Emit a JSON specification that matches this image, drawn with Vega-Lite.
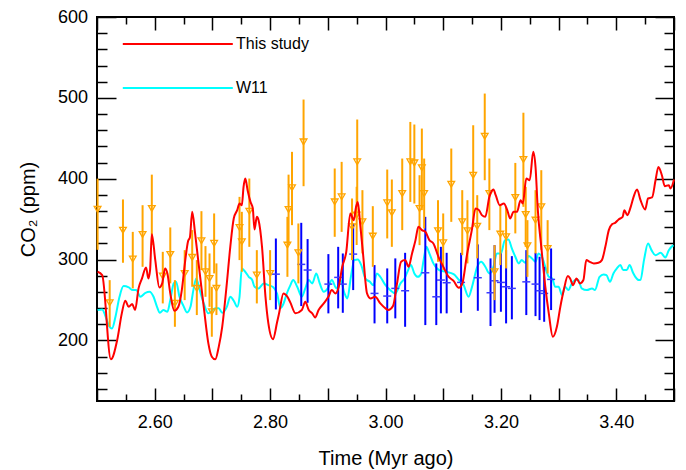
{
  "$schema": "https://vega.github.io/schema/vega-lite/v6.json",
  "width": 577,
  "height": 384,
  "autosize": {"type": "none"},
  "padding": {"left": 97, "top": 17, "right": 12, "bottom": 69},
  "background": "white",
  "config": {
    "view": {"stroke": "black", "strokeWidth": 2},
    "font": "Liberation Sans"
  },
  "datasets": {
    "lines": [
      {"s": "This study", "t": 2.501, "v": 284.8},
      {"s": "This study", "t": 2.509, "v": 280.7},
      {"s": "This study", "t": 2.524, "v": 176.5},
      {"s": "This study", "t": 2.535, "v": 200.4},
      {"s": "This study", "t": 2.543, "v": 233.4},
      {"s": "This study", "t": 2.549, "v": 249},
      {"s": "This study", "t": 2.555, "v": 241.5},
      {"s": "This study", "t": 2.561, "v": 244.9},
      {"s": "This study", "t": 2.566, "v": 237.5},
      {"s": "This study", "t": 2.572, "v": 264.3},
      {"s": "This study", "t": 2.578, "v": 276.6},
      {"s": "This study", "t": 2.585, "v": 290.2},
      {"s": "This study", "t": 2.589, "v": 276.6},
      {"s": "This study", "t": 2.592, "v": 286.9},
      {"s": "This study", "t": 2.595, "v": 331.4},
      {"s": "This study", "t": 2.601, "v": 299.3},
      {"s": "This study", "t": 2.608, "v": 265.5},
      {"s": "This study", "t": 2.613, "v": 270.5},
      {"s": "This study", "t": 2.618, "v": 289},
      {"s": "This study", "t": 2.622, "v": 282.8},
      {"s": "This study", "t": 2.627, "v": 258.1},
      {"s": "This study", "t": 2.634, "v": 236.6},
      {"s": "This study", "t": 2.641, "v": 241.5},
      {"s": "This study", "t": 2.647, "v": 262.2},
      {"s": "This study", "t": 2.653, "v": 299.3},
      {"s": "This study", "t": 2.658, "v": 323.1},
      {"s": "This study", "t": 2.661, "v": 327.3},
      {"s": "This study", "t": 2.665, "v": 359},
      {"s": "This study", "t": 2.67, "v": 332.3},
      {"s": "This study", "t": 2.676, "v": 295.2},
      {"s": "This study", "t": 2.685, "v": 241.5},
      {"s": "This study", "t": 2.693, "v": 196.3},
      {"s": "This study", "t": 2.699, "v": 179.8},
      {"s": "This study", "t": 2.705, "v": 176.5},
      {"s": "This study", "t": 2.711, "v": 192},
      {"s": "This study", "t": 2.717, "v": 216.8},
      {"s": "This study", "t": 2.725, "v": 270.5},
      {"s": "This study", "t": 2.731, "v": 315.7},
      {"s": "This study", "t": 2.737, "v": 350.8},
      {"s": "This study", "t": 2.743, "v": 361.1},
      {"s": "This study", "t": 2.747, "v": 369.3},
      {"s": "This study", "t": 2.751, "v": 367.2},
      {"s": "This study", "t": 2.754, "v": 389.9},
      {"s": "This study", "t": 2.757, "v": 400.2},
      {"s": "This study", "t": 2.761, "v": 385.8},
      {"s": "This study", "t": 2.766, "v": 371.3},
      {"s": "This study", "t": 2.77, "v": 363.2},
      {"s": "This study", "t": 2.773, "v": 337.2},
      {"s": "This study", "t": 2.777, "v": 352.8},
      {"s": "This study", "t": 2.78, "v": 348.7},
      {"s": "This study", "t": 2.786, "v": 315.7},
      {"s": "This study", "t": 2.792, "v": 253.9},
      {"s": "This study", "t": 2.797, "v": 221},
      {"s": "This study", "t": 2.805, "v": 201.5},
      {"s": "This study", "t": 2.812, "v": 222},
      {"s": "This study", "t": 2.816, "v": 235},
      {"s": "This study", "t": 2.823, "v": 258},
      {"s": "This study", "t": 2.83, "v": 253.9},
      {"s": "This study", "t": 2.835, "v": 247},
      {"s": "This study", "t": 2.844, "v": 233.4},
      {"s": "This study", "t": 2.855, "v": 237.5},
      {"s": "This study", "t": 2.861, "v": 247.7},
      {"s": "This study", "t": 2.867, "v": 237.5},
      {"s": "This study", "t": 2.873, "v": 233.4},
      {"s": "This study", "t": 2.878, "v": 228.4},
      {"s": "This study", "t": 2.884, "v": 237.5},
      {"s": "This study", "t": 2.893, "v": 245.7},
      {"s": "This study", "t": 2.901, "v": 253.9},
      {"s": "This study", "t": 2.907, "v": 262.2},
      {"s": "This study", "t": 2.913, "v": 258.1},
      {"s": "This study", "t": 2.919, "v": 266.3},
      {"s": "This study", "t": 2.925, "v": 291},
      {"s": "This study", "t": 2.932, "v": 309.5},
      {"s": "This study", "t": 2.939, "v": 357},
      {"s": "This study", "t": 2.945, "v": 348.7},
      {"s": "This study", "t": 2.949, "v": 365.2},
      {"s": "This study", "t": 2.952, "v": 371.3},
      {"s": "This study", "t": 2.956, "v": 344.6},
      {"s": "This study", "t": 2.961, "v": 307.5},
      {"s": "This study", "t": 2.968, "v": 258.1},
      {"s": "This study", "t": 2.974, "v": 251.9},
      {"s": "This study", "t": 2.982, "v": 253.9},
      {"s": "This study", "t": 2.991, "v": 245.7},
      {"s": "This study", "t": 3.0, "v": 239.6},
      {"s": "This study", "t": 3.005, "v": 237.5},
      {"s": "This study", "t": 3.013, "v": 242.4},
      {"s": "This study", "t": 3.02, "v": 270.5},
      {"s": "This study", "t": 3.027, "v": 297.2},
      {"s": "This study", "t": 3.034, "v": 299.3},
      {"s": "This study", "t": 3.04, "v": 291},
      {"s": "This study", "t": 3.046, "v": 307.5},
      {"s": "This study", "t": 3.052, "v": 324},
      {"s": "This study", "t": 3.057, "v": 340.4},
      {"s": "This study", "t": 3.063, "v": 336.4},
      {"s": "This study", "t": 3.069, "v": 334.3},
      {"s": "This study", "t": 3.076, "v": 324},
      {"s": "This study", "t": 3.083, "v": 319.9},
      {"s": "This study", "t": 3.092, "v": 303},
      {"s": "This study", "t": 3.101, "v": 290},
      {"s": "This study", "t": 3.108, "v": 280},
      {"s": "This study", "t": 3.118, "v": 273.5},
      {"s": "This study", "t": 3.127, "v": 265},
      {"s": "This study", "t": 3.133, "v": 270},
      {"s": "This study", "t": 3.141, "v": 305},
      {"s": "This study", "t": 3.15, "v": 338},
      {"s": "This study", "t": 3.156, "v": 363.2},
      {"s": "This study", "t": 3.162, "v": 361.1},
      {"s": "This study", "t": 3.167, "v": 354.9},
      {"s": "This study", "t": 3.173, "v": 352.8},
      {"s": "This study", "t": 3.18, "v": 377.5},
      {"s": "This study", "t": 3.187, "v": 386.7},
      {"s": "This study", "t": 3.191, "v": 379.6},
      {"s": "This study", "t": 3.198, "v": 367.2},
      {"s": "This study", "t": 3.205, "v": 369.3},
      {"s": "This study", "t": 3.211, "v": 361.1},
      {"s": "This study", "t": 3.216, "v": 350.8},
      {"s": "This study", "t": 3.222, "v": 359},
      {"s": "This study", "t": 3.228, "v": 359},
      {"s": "This study", "t": 3.234, "v": 373.4},
      {"s": "This study", "t": 3.238, "v": 369.3},
      {"s": "This study", "t": 3.244, "v": 400.2},
      {"s": "This study", "t": 3.25, "v": 398.1},
      {"s": "This study", "t": 3.256, "v": 433.2},
      {"s": "This study", "t": 3.26, "v": 414.6},
      {"s": "This study", "t": 3.264, "v": 361.1},
      {"s": "This study", "t": 3.27, "v": 315.7},
      {"s": "This study", "t": 3.277, "v": 266.3},
      {"s": "This study", "t": 3.283, "v": 233.4},
      {"s": "This study", "t": 3.29, "v": 204.4},
      {"s": "This study", "t": 3.297, "v": 216.8},
      {"s": "This study", "t": 3.303, "v": 241.5},
      {"s": "This study", "t": 3.309, "v": 262.2},
      {"s": "This study", "t": 3.316, "v": 279.5},
      {"s": "This study", "t": 3.32, "v": 276.6},
      {"s": "This study", "t": 3.325, "v": 268.3},
      {"s": "This study", "t": 3.331, "v": 276.6},
      {"s": "This study", "t": 3.337, "v": 270.5},
      {"s": "This study", "t": 3.343, "v": 274.6},
      {"s": "This study", "t": 3.348, "v": 299.3},
      {"s": "This study", "t": 3.354, "v": 297.2},
      {"s": "This study", "t": 3.361, "v": 295.2},
      {"s": "This study", "t": 3.369, "v": 296},
      {"s": "This study", "t": 3.375, "v": 299.3},
      {"s": "This study", "t": 3.381, "v": 315.7},
      {"s": "This study", "t": 3.387, "v": 336.4},
      {"s": "This study", "t": 3.393, "v": 343.8},
      {"s": "This study", "t": 3.398, "v": 345.4},
      {"s": "This study", "t": 3.404, "v": 349.6},
      {"s": "This study", "t": 3.411, "v": 352.8},
      {"s": "This study", "t": 3.414, "v": 361.1},
      {"s": "This study", "t": 3.419, "v": 354.9},
      {"s": "This study", "t": 3.425, "v": 365.2},
      {"s": "This study", "t": 3.43, "v": 377.5},
      {"s": "This study", "t": 3.436, "v": 386.7},
      {"s": "This study", "t": 3.442, "v": 373.4},
      {"s": "This study", "t": 3.45, "v": 361.9},
      {"s": "This study", "t": 3.455, "v": 375.5},
      {"s": "This study", "t": 3.462, "v": 376.8},
      {"s": "This study", "t": 3.468, "v": 398.1},
      {"s": "This study", "t": 3.473, "v": 414.6},
      {"s": "This study", "t": 3.479, "v": 404.3},
      {"s": "This study", "t": 3.484, "v": 390.7},
      {"s": "This study", "t": 3.491, "v": 392},
      {"s": "This study", "t": 3.494, "v": 387.9},
      {"s": "This study", "t": 3.5, "v": 399},
      {"s": "W11", "t": 2.501, "v": 237.5},
      {"s": "W11", "t": 2.509, "v": 238.3},
      {"s": "W11", "t": 2.514, "v": 231.3},
      {"s": "W11", "t": 2.52, "v": 219},
      {"s": "W11", "t": 2.526, "v": 214.8},
      {"s": "W11", "t": 2.532, "v": 229.2},
      {"s": "W11", "t": 2.539, "v": 253.9},
      {"s": "W11", "t": 2.546, "v": 267.1},
      {"s": "W11", "t": 2.555, "v": 265.5},
      {"s": "W11", "t": 2.562, "v": 262.2},
      {"s": "W11", "t": 2.568, "v": 262.2},
      {"s": "W11", "t": 2.575, "v": 253.9},
      {"s": "W11", "t": 2.584, "v": 258.8},
      {"s": "W11", "t": 2.591, "v": 260.1},
      {"s": "W11", "t": 2.598, "v": 253.9},
      {"s": "W11", "t": 2.604, "v": 241.5},
      {"s": "W11", "t": 2.609, "v": 234.1},
      {"s": "W11", "t": 2.615, "v": 237.5},
      {"s": "W11", "t": 2.622, "v": 235.4},
      {"s": "W11", "t": 2.627, "v": 249.8},
      {"s": "W11", "t": 2.633, "v": 270.5},
      {"s": "W11", "t": 2.637, "v": 272.4},
      {"s": "W11", "t": 2.643, "v": 253.9},
      {"s": "W11", "t": 2.65, "v": 242.4},
      {"s": "W11", "t": 2.656, "v": 234.6},
      {"s": "W11", "t": 2.662, "v": 241.5},
      {"s": "W11", "t": 2.667, "v": 262.2},
      {"s": "W11", "t": 2.672, "v": 276.6},
      {"s": "W11", "t": 2.678, "v": 262.2},
      {"s": "W11", "t": 2.685, "v": 245.7},
      {"s": "W11", "t": 2.693, "v": 233.4},
      {"s": "W11", "t": 2.699, "v": 236.6},
      {"s": "W11", "t": 2.705, "v": 239.6},
      {"s": "W11", "t": 2.711, "v": 239.6},
      {"s": "W11", "t": 2.717, "v": 234.1},
      {"s": "W11", "t": 2.725, "v": 241.5},
      {"s": "W11", "t": 2.731, "v": 253.9},
      {"s": "W11", "t": 2.737, "v": 249},
      {"s": "W11", "t": 2.743, "v": 241.5},
      {"s": "W11", "t": 2.747, "v": 253.9},
      {"s": "W11", "t": 2.751, "v": 289},
      {"s": "W11", "t": 2.757, "v": 284.8},
      {"s": "W11", "t": 2.763, "v": 278.6},
      {"s": "W11", "t": 2.769, "v": 274.6},
      {"s": "W11", "t": 2.773, "v": 266.3},
      {"s": "W11", "t": 2.78, "v": 264.3},
      {"s": "W11", "t": 2.789, "v": 270.5},
      {"s": "W11", "t": 2.797, "v": 268.3},
      {"s": "W11", "t": 2.805, "v": 266},
      {"s": "W11", "t": 2.812, "v": 258},
      {"s": "W11", "t": 2.818, "v": 240},
      {"s": "W11", "t": 2.823, "v": 245},
      {"s": "W11", "t": 2.829, "v": 258},
      {"s": "W11", "t": 2.835, "v": 268},
      {"s": "W11", "t": 2.84, "v": 274.6},
      {"s": "W11", "t": 2.847, "v": 266.3},
      {"s": "W11", "t": 2.855, "v": 253.9},
      {"s": "W11", "t": 2.861, "v": 264.3},
      {"s": "W11", "t": 2.867, "v": 274.6},
      {"s": "W11", "t": 2.873, "v": 270.5},
      {"s": "W11", "t": 2.88, "v": 282.8},
      {"s": "W11", "t": 2.886, "v": 270.5},
      {"s": "W11", "t": 2.893, "v": 260.1},
      {"s": "W11", "t": 2.9, "v": 264.3},
      {"s": "W11", "t": 2.907, "v": 274.6},
      {"s": "W11", "t": 2.915, "v": 264.3},
      {"s": "W11", "t": 2.922, "v": 274.6},
      {"s": "W11", "t": 2.929, "v": 258.1},
      {"s": "W11", "t": 2.934, "v": 251.9},
      {"s": "W11", "t": 2.94, "v": 278.6},
      {"s": "W11", "t": 2.946, "v": 299.3},
      {"s": "W11", "t": 2.952, "v": 300.1},
      {"s": "W11", "t": 2.958, "v": 293.1},
      {"s": "W11", "t": 2.965, "v": 276.6},
      {"s": "W11", "t": 2.973, "v": 272.4},
      {"s": "W11", "t": 2.979, "v": 268.3},
      {"s": "W11", "t": 2.985, "v": 282.8},
      {"s": "W11", "t": 2.991, "v": 278.6},
      {"s": "W11", "t": 3.0, "v": 268.3},
      {"s": "W11", "t": 3.008, "v": 262.2},
      {"s": "W11", "t": 3.017, "v": 258.1},
      {"s": "W11", "t": 3.026, "v": 270.5},
      {"s": "W11", "t": 3.033, "v": 276.6},
      {"s": "W11", "t": 3.038, "v": 284.8},
      {"s": "W11", "t": 3.044, "v": 293.1},
      {"s": "W11", "t": 3.05, "v": 282.8},
      {"s": "W11", "t": 3.056, "v": 278.6},
      {"s": "W11", "t": 3.062, "v": 282.8},
      {"s": "W11", "t": 3.066, "v": 299.3},
      {"s": "W11", "t": 3.071, "v": 315.7},
      {"s": "W11", "t": 3.076, "v": 307.5},
      {"s": "W11", "t": 3.083, "v": 295.2},
      {"s": "W11", "t": 3.093, "v": 287},
      {"s": "W11", "t": 3.104, "v": 285},
      {"s": "W11", "t": 3.118, "v": 282},
      {"s": "W11", "t": 3.127, "v": 275},
      {"s": "W11", "t": 3.135, "v": 269},
      {"s": "W11", "t": 3.144, "v": 254},
      {"s": "W11", "t": 3.15, "v": 266.3},
      {"s": "W11", "t": 3.159, "v": 291},
      {"s": "W11", "t": 3.166, "v": 297.2},
      {"s": "W11", "t": 3.173, "v": 291},
      {"s": "W11", "t": 3.18, "v": 282.8},
      {"s": "W11", "t": 3.187, "v": 291},
      {"s": "W11", "t": 3.193, "v": 307.5},
      {"s": "W11", "t": 3.2, "v": 307.5},
      {"s": "W11", "t": 3.207, "v": 324},
      {"s": "W11", "t": 3.213, "v": 324.8},
      {"s": "W11", "t": 3.219, "v": 313.7},
      {"s": "W11", "t": 3.225, "v": 303.4},
      {"s": "W11", "t": 3.231, "v": 295.2},
      {"s": "W11", "t": 3.236, "v": 299.3},
      {"s": "W11", "t": 3.242, "v": 296},
      {"s": "W11", "t": 3.248, "v": 304.3},
      {"s": "W11", "t": 3.254, "v": 301.4},
      {"s": "W11", "t": 3.26, "v": 297.2},
      {"s": "W11", "t": 3.265, "v": 307.5},
      {"s": "W11", "t": 3.271, "v": 303.4},
      {"s": "W11", "t": 3.277, "v": 291},
      {"s": "W11", "t": 3.283, "v": 278.6},
      {"s": "W11", "t": 3.289, "v": 276.6},
      {"s": "W11", "t": 3.294, "v": 266.3},
      {"s": "W11", "t": 3.3, "v": 266.3},
      {"s": "W11", "t": 3.306, "v": 256},
      {"s": "W11", "t": 3.311, "v": 266.3},
      {"s": "W11", "t": 3.317, "v": 262.2},
      {"s": "W11", "t": 3.323, "v": 270.5},
      {"s": "W11", "t": 3.329, "v": 274.6},
      {"s": "W11", "t": 3.334, "v": 274.6},
      {"s": "W11", "t": 3.34, "v": 264.3},
      {"s": "W11", "t": 3.349, "v": 262.2},
      {"s": "W11", "t": 3.358, "v": 264.3},
      {"s": "W11", "t": 3.363, "v": 262.2},
      {"s": "W11", "t": 3.371, "v": 278.6},
      {"s": "W11", "t": 3.378, "v": 281.5},
      {"s": "W11", "t": 3.383, "v": 280.7},
      {"s": "W11", "t": 3.389, "v": 272.4},
      {"s": "W11", "t": 3.395, "v": 282.8},
      {"s": "W11", "t": 3.401, "v": 289},
      {"s": "W11", "t": 3.407, "v": 293.1},
      {"s": "W11", "t": 3.412, "v": 286.9},
      {"s": "W11", "t": 3.418, "v": 286.9},
      {"s": "W11", "t": 3.423, "v": 293.1},
      {"s": "W11", "t": 3.429, "v": 283.6},
      {"s": "W11", "t": 3.433, "v": 278.6},
      {"s": "W11", "t": 3.439, "v": 274.6},
      {"s": "W11", "t": 3.442, "v": 275},
      {"s": "W11", "t": 3.448, "v": 299.3},
      {"s": "W11", "t": 3.455, "v": 319.9},
      {"s": "W11", "t": 3.461, "v": 311.6},
      {"s": "W11", "t": 3.468, "v": 305.4},
      {"s": "W11", "t": 3.477, "v": 308.3},
      {"s": "W11", "t": 3.485, "v": 302.5},
      {"s": "W11", "t": 3.491, "v": 311.6},
      {"s": "W11", "t": 3.499, "v": 317.8}
    ],
    "orange": [
      {"t": 2.501, "v": 362, "lo": 312, "hi": 400},
      {"t": 2.522, "v": 246.5, "lo": 216.8, "hi": 274.5},
      {"t": 2.545, "v": 336.3, "lo": 296, "hi": 374.3},
      {"t": 2.562, "v": 300.5, "lo": 264.3, "hi": 334.2},
      {"t": 2.579, "v": 331, "lo": 291, "hi": 367.2},
      {"t": 2.595, "v": 363.2, "lo": 317.8, "hi": 405},
      {"t": 2.614, "v": 279.5, "lo": 245.7, "hi": 309.5},
      {"t": 2.627, "v": 306.3, "lo": 270.5, "hi": 339.7},
      {"t": 2.635, "v": 245.7, "lo": 216.8, "hi": 274.5},
      {"t": 2.652, "v": 282.8, "lo": 249.8, "hi": 311.6},
      {"t": 2.665, "v": 302.6, "lo": 266.3, "hi": 336.4},
      {"t": 2.673, "v": 264.3, "lo": 231.3, "hi": 299.3},
      {"t": 2.681, "v": 323.1, "lo": 286.9, "hi": 359.8},
      {"t": 2.688, "v": 284.8, "lo": 253.9, "hi": 316.6},
      {"t": 2.695, "v": 276.6, "lo": 241.5, "hi": 307.5},
      {"t": 2.699, "v": 235.4, "lo": 204.5, "hi": 266.3},
      {"t": 2.703, "v": 320, "lo": 282.8, "hi": 357},
      {"t": 2.707, "v": 264.3, "lo": 231.3, "hi": 295.2},
      {"t": 2.747, "v": 339.7, "lo": 299.3, "hi": 377.5},
      {"t": 2.751, "v": 321.9, "lo": 284.8, "hi": 359},
      {"t": 2.764, "v": 359.8, "lo": 315.7, "hi": 400.2},
      {"t": 2.777, "v": 280.7, "lo": 245.7, "hi": 311.6},
      {"t": 2.8, "v": 282.8, "lo": 249.8, "hi": 311.6},
      {"t": 2.83, "v": 317.8, "lo": 278.6, "hi": 352.8},
      {"t": 2.832, "v": 361.9, "lo": 318, "hi": 405},
      {"t": 2.838, "v": 388.7, "lo": 342.5, "hi": 433.2},
      {"t": 2.849, "v": 308.3, "lo": 270.5, "hi": 344.6},
      {"t": 2.858, "v": 445.5, "lo": 390.7, "hi": 497.9},
      {"t": 2.912, "v": 371.3, "lo": 328.1, "hi": 412.6},
      {"t": 2.924, "v": 377.5, "lo": 334.2, "hi": 420.8},
      {"t": 2.942, "v": 340.4, "lo": 299.3, "hi": 375.5},
      {"t": 2.951, "v": 420.8, "lo": 365.2, "hi": 473.2},
      {"t": 2.95, "v": 355, "lo": 318, "hi": 390},
      {"t": 2.96, "v": 346.6, "lo": 307.5, "hi": 385.8},
      {"t": 2.978, "v": 328.9, "lo": 291, "hi": 366},
      {"t": 3.003, "v": 370.1, "lo": 326.1, "hi": 411.3},
      {"t": 3.011, "v": 357.8, "lo": 315.7, "hi": 399},
      {"t": 3.029, "v": 381.6, "lo": 336.4, "hi": 424.9},
      {"t": 3.043, "v": 420.8, "lo": 371.3, "hi": 470.2},
      {"t": 3.05, "v": 419.5, "lo": 369.3, "hi": 467},
      {"t": 3.059, "v": 363.2, "lo": 317.8, "hi": 404.3},
      {"t": 3.063, "v": 413.5, "lo": 361.1, "hi": 462},
      {"t": 3.067, "v": 381.6, "lo": 338.4, "hi": 424.9},
      {"t": 3.091, "v": 335.5, "lo": 297.2, "hi": 373.4},
      {"t": 3.1, "v": 320.6, "lo": 286.9, "hi": 357},
      {"t": 3.114, "v": 393.2, "lo": 346.6, "hi": 437.3},
      {"t": 3.133, "v": 346.6, "lo": 305.4, "hi": 385.8},
      {"t": 3.142, "v": 335.5, "lo": 295.2, "hi": 373.4},
      {"t": 3.152, "v": 404.3, "lo": 340.4, "hi": 466.1},
      {"t": 3.159, "v": 341.2, "lo": 301.4, "hi": 379.6},
      {"t": 3.172, "v": 452.5, "lo": 398.1, "hi": 505.3},
      {"t": 3.18, "v": 381.6, "lo": 336.4, "hi": 424.9},
      {"t": 3.189, "v": 284.8, "lo": 249.8, "hi": 317.8},
      {"t": 3.199, "v": 331.4, "lo": 293.1, "hi": 367.2},
      {"t": 3.209, "v": 328.1, "lo": 289, "hi": 365.2},
      {"t": 3.225, "v": 376.8, "lo": 332.3, "hi": 419.5},
      {"t": 3.239, "v": 423.7, "lo": 365.2, "hi": 481.6},
      {"t": 3.243, "v": 355.7, "lo": 315.7, "hi": 389.9},
      {"t": 3.246, "v": 317, "lo": 278.6, "hi": 348.7},
      {"t": 3.26, "v": 348.7, "lo": 307.5, "hi": 385.8},
      {"t": 3.27, "v": 365.2, "lo": 312, "hi": 410.5},
      {"t": 3.281, "v": 313.7, "lo": 282.8, "hi": 348.7}
    ],
    "blue": [
      {"t": 2.81, "v": 281.9, "lo": 238.3, "hi": 326},
      {"t": 2.854, "v": 294, "lo": 242.4, "hi": 345.4},
      {"t": 2.865, "v": 287, "lo": 246.5, "hi": 325.3},
      {"t": 2.901, "v": 269.6, "lo": 233.4, "hi": 306.7},
      {"t": 2.918, "v": 277.9, "lo": 239.6, "hi": 315.7},
      {"t": 2.926, "v": 269.6, "lo": 234.1, "hi": 307.5},
      {"t": 2.944, "v": 306.7, "lo": 262.2, "hi": 344.6},
      {"t": 2.981, "v": 258.1, "lo": 221, "hi": 293.1},
      {"t": 3.003, "v": 254.8, "lo": 221, "hi": 289},
      {"t": 3.017, "v": 264.3, "lo": 227.2, "hi": 301.4},
      {"t": 3.034, "v": 261.4, "lo": 216.8, "hi": 308.3},
      {"t": 3.069, "v": 283.6, "lo": 218.9, "hi": 352.8},
      {"t": 3.088, "v": 253.9, "lo": 218.9, "hi": 295.2},
      {"t": 3.096, "v": 274.6, "lo": 233.4, "hi": 315.7},
      {"t": 3.106, "v": 271.3, "lo": 233.4, "hi": 308.3},
      {"t": 3.131, "v": 271.7, "lo": 234.1, "hi": 308.3},
      {"t": 3.16, "v": 277.5, "lo": 236.6, "hi": 318.7},
      {"t": 3.182, "v": 258.9, "lo": 217.7, "hi": 301.4},
      {"t": 3.189, "v": 273.7, "lo": 234.1, "hi": 317.8},
      {"t": 3.2, "v": 271.7, "lo": 235.4, "hi": 307.5},
      {"t": 3.209, "v": 266.3, "lo": 221, "hi": 311.6},
      {"t": 3.219, "v": 264.3, "lo": 226, "hi": 304.2},
      {"t": 3.244, "v": 272.4, "lo": 231.3, "hi": 311.6},
      {"t": 3.26, "v": 269.6, "lo": 230, "hi": 308.3},
      {"t": 3.267, "v": 261.4, "lo": 225.1, "hi": 303.4},
      {"t": 3.275, "v": 258.1, "lo": 223, "hi": 291},
      {"t": 3.287, "v": 275.4, "lo": 237.5, "hi": 313.7}
    ]
  },
  "layer": [
    {
      "data": {"name": "lines"},
      "transform": [{"filter": "datum.s === 'W11'"}],
      "mark": {"type": "line", "strokeWidth": 2, "interpolate": "monotone"},
      "encoding": {
        "x": {"field": "t", "type": "quantitative",
          "scale": {"domain": [2.5, 3.5], "nice": false, "zero": false},
          "axis": {"orient": "top", "values": [2.5,2.55,2.6,2.65,2.7,2.75,2.8,2.85,2.9,2.95,3.0,3.05,3.1,3.15,3.2,3.25,3.3,3.35,3.4,3.45,3.5],
            "labels": false, "title": null, "domain": false, "grid": false,
            "tickColor": "black", "tickWidth": 1.5,
            "tickSize": {"condition": {"test": "abs(datum.value*10 - round(datum.value*10)) < 0.001", "value": -13}, "value": -7}}},
        "y": {"field": "v", "type": "quantitative",
          "scale": {"domain": [125, 600], "nice": false, "zero": false},
          "axis": {"orient": "right", "values": [140,160,180,200,220,240,260,280,300,320,340,360,380,400,420,440,460,480,500,520,540,560,580,600],
            "labels": false, "title": null, "domain": false, "grid": false,
            "tickColor": "black", "tickWidth": 1.5,
            "tickSize": {"condition": {"test": "datum.value % 100 === 0", "value": -19}, "value": -10}}},
        "color": {"field": "s", "type": "nominal",
          "scale": {"domain": ["This study", "W11"], "range": ["#ff0000", "#00ffff"]},
          "legend": {"orient": "none", "legendX": 72.8, "legendY": 19, "title": null,
            "symbolType": "M-10,0H10", "symbolSize": 121, "symbolStrokeWidth": 2,
            "labelFontSize": 16, "labelFont": "Liberation Sans", "labelColor": "black",
            "labelOffset": 50.2, "rowPadding": 28, "padding": 0}}
      }
    },
    {
      "data": {"name": "blue"},
      "mark": {"type": "rule", "strokeWidth": 2, "color": "#0000ff"},
      "encoding": {
        "x": {"field": "t", "type": "quantitative", "axis": null},
        "y": {"field": "lo", "type": "quantitative", "axis": null},
        "y2": {"field": "hi"}
      }
    },
    {
      "data": {"name": "blue"},
      "mark": {"type": "point", "shape": "M-1,0H1", "size": 64, "filled": false, "stroke": "#3a3aff", "strokeWidth": 1.5, "opacity": 1},
      "encoding": {
        "x": {"field": "t", "type": "quantitative", "axis": null},
        "y": {"field": "v", "type": "quantitative", "axis": null}
      }
    },
    {
      "data": {"name": "orange"},
      "mark": {"type": "rule", "strokeWidth": 2, "color": "#ffa500"},
      "encoding": {
        "x": {"field": "t", "type": "quantitative", "axis": null},
        "y": {"field": "lo", "type": "quantitative", "axis": null},
        "y2": {"field": "hi"}
      }
    },
    {
      "data": {"name": "orange"},
      "mark": {"type": "point", "shape": "triangle-down", "size": 45, "filled": false, "stroke": "#ffa500", "strokeWidth": 1.3, "opacity": 1},
      "encoding": {
        "x": {"field": "t", "type": "quantitative", "axis": null},
        "y": {"field": "v", "type": "quantitative", "axis": null}
      }
    },
    {
      "data": {"name": "lines"},
      "transform": [{"filter": "datum.s === 'This study'"}],
      "mark": {"type": "line", "strokeWidth": 2, "interpolate": "monotone"},
      "encoding": {
        "x": {"field": "t", "type": "quantitative",
          "axis": {"orient": "bottom", "values": [2.5,2.55,2.6,2.65,2.7,2.75,2.8,2.85,2.9,2.95,3.0,3.05,3.1,3.15,3.2,3.25,3.3,3.35,3.4,3.45,3.5],
            "labelExpr": "abs(datum.value*5 - round(datum.value*5)) < 0.001 ? format(datum.value, '.2f') : ''",
            "labelFontSize": 18, "labelFont": "Liberation Sans", "labelColor": "black",
            "labelPadding": 25, "labelBaseline": "top", "labelFlush": false, "labelOverlap": false,
            "title": "Time (Myr ago)", "titleFontSize": 20, "titleFontWeight": "normal", "titleColor": "black",
            "titleFont": "Liberation Sans", "titleY": 57, "titleBaseline": "middle",
            "domain": false, "grid": false, "tickColor": "black", "tickWidth": 1.5,
            "tickSize": {"condition": {"test": "abs(datum.value*10 - round(datum.value*10)) < 0.001", "value": -13}, "value": -7}}},
        "y": {"field": "v", "type": "quantitative",
          "axis": {"orient": "left", "values": [140,160,180,200,220,240,260,280,300,320,340,360,380,400,420,440,460,480,500,520,540,560,580,600],
            "labelExpr": "datum.value % 100 === 0 ? datum.label : ''",
            "labelFontSize": 18, "labelFont": "Liberation Sans", "labelColor": "black",
            "labelPadding": 28.5, "labelFlush": false, "labelOverlap": false,
            "title": "CO₂ (ppm)", "titleFontSize": 20, "titleFontWeight": "normal", "titleColor": "black",
            "titleFont": "Liberation Sans", "titleX": -69, "titleBaseline": "middle",
            "domain": false, "grid": false, "tickColor": "black", "tickWidth": 1.5,
            "tickSize": {"condition": {"test": "datum.value % 100 === 0", "value": -19}, "value": -10}}},
        "color": {"field": "s", "type": "nominal",
          "scale": {"domain": ["This study", "W11"], "range": ["#ff0000", "#00ffff"]},
          "legend": {"orient": "none", "legendX": 72.8, "legendY": 19, "title": null,
            "symbolType": "M-10,0H10", "symbolSize": 121, "symbolStrokeWidth": 2,
            "labelFontSize": 16, "labelFont": "Liberation Sans", "labelColor": "black",
            "labelOffset": 50.2, "rowPadding": 28, "padding": 0}}
      }
    }
  ],
  "resolve": {"axis": {"x": "independent", "y": "independent"}}
}
